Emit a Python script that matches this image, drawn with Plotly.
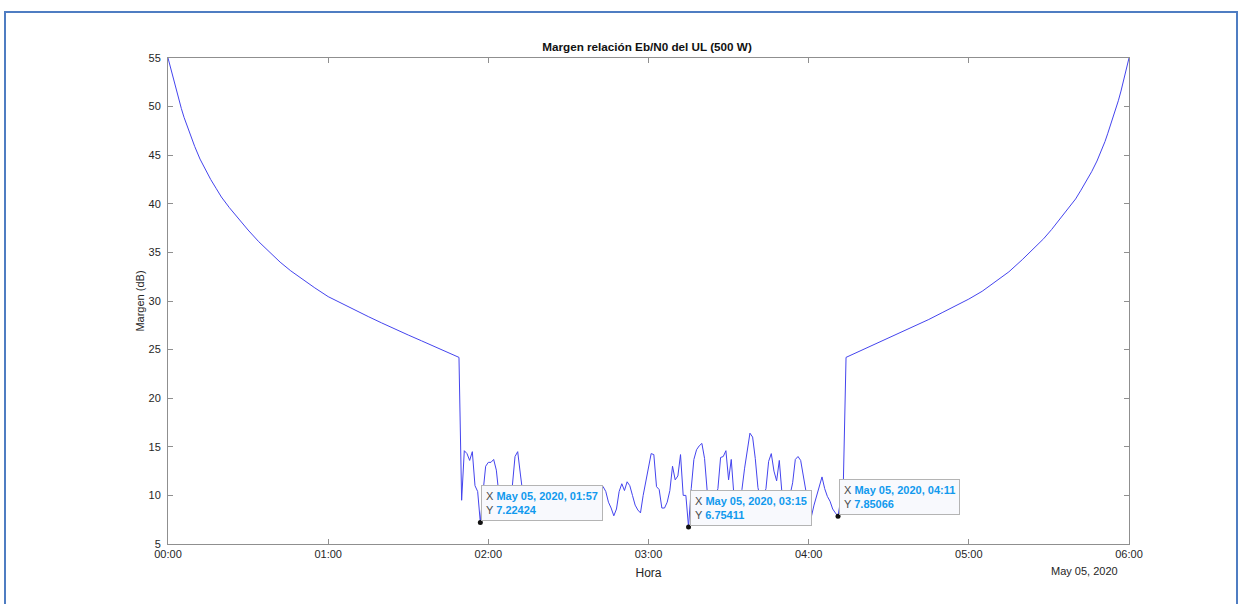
import pandas as pd
import plotly.graph_objects as go

# --- data -----------------------------------------------------------------
DAY = "2020-05-05"

# pass entry: margin (dB) vs minutes after 00:00
entry_min = [0, 1, 2, 3, 4, 5, 6, 7, 8, 9, 10, 12, 14, 16, 18, 20, 23, 26,
             30, 34, 38, 42, 46, 50, 55, 60, 65, 70, 75, 80, 85, 90, 95, 100,
             105, 109]
entry_db = [55.0, 53.9, 52.8, 51.7, 50.7, 49.8, 48.9, 48.1, 47.3, 46.6, 45.9,
            44.6, 43.5, 42.5, 41.6, 40.7, 39.6, 38.6, 37.3, 36.1, 35.0, 34.0,
            33.1, 32.3, 31.35, 30.45, 29.75, 29.05, 28.4, 27.75, 27.1, 26.5,
            25.9, 25.3, 24.7, 24.2]

# faded segment, one sample per minute from 01:50 to 04:13
fade_start_min = 110
fade_db = [
    9.5, 14.6, 14.3, 13.6, 14.5, 11.0, 10.4, 7.22424, 10.3, 13.0,
    13.4, 13.4, 13.7, 12.6, 10.0, 8.9, 8.4, 8.8, 9.6, 11.0,
    14.0, 14.5, 12.2, 10.0, 9.2, 8.6, 8.9, 9.4, 9.0, 8.5,
    9.2, 9.9, 10.3, 10.2, 10.3, 10.1, 10.3, 10.2, 9.6, 8.8,
    8.3, 8.7, 9.4, 9.0, 8.4, 8.0, 8.5, 9.2, 9.7, 9.3,
    9.0, 9.6, 10.3, 10.9, 10.4, 9.3, 8.7, 7.9, 8.6, 10.4,
    11.2, 10.5, 11.4, 11.0, 10.0, 9.0, 8.5, 8.2, 10.0, 11.5,
    12.6, 14.3, 14.2, 10.9, 10.6, 8.7, 8.7, 9.3, 10.5, 13.0,
    11.6, 12.0, 14.2, 10.0, 10.0, 6.75411, 10.7, 13.7, 14.7, 15.1,
    15.35, 13.8, 10.4, 9.5, 9.2, 9.8, 10.7, 13.9, 14.0, 14.6,
    11.6, 13.7, 10.0, 9.3, 9.8, 10.6, 12.8, 14.8, 16.4, 16.0,
    13.8, 10.8, 9.6, 9.9, 10.7, 13.5, 14.3, 12.5, 11.5, 13.6,
    10.2, 9.2, 9.0, 10.0, 11.3, 13.7, 14.0, 13.6, 12.2, 10.4,
    8.8, 7.8, 9.0, 10.0, 10.9, 11.9, 10.7, 9.9, 9.4, 8.6,
    8.2, 7.85066, 9.6, 11.4,
]

# pass exit
exit_min = [254, 258, 262, 266, 270, 275, 280, 285, 290, 295, 300, 305, 310,
            315, 320, 324, 328, 331, 334, 337, 340, 342, 344, 346, 348, 350,
            351, 352, 353, 354, 355, 356, 357, 358, 359, 360]
exit_db = [24.2, 24.7, 25.2, 25.7, 26.2, 26.8, 27.45, 28.1, 28.8, 29.5, 30.2,
           31.0, 32.0, 33.0, 34.25, 35.3, 36.4, 37.35, 38.4, 39.4, 40.5, 41.4,
           42.3, 43.3, 44.4, 45.7, 46.4, 47.2, 48.0, 48.8, 49.7, 50.6, 51.6,
           52.7, 53.9, 55.0]

# data tips (minute of the day)
tip_min = [117, 195, 251]

y_ticks = [5, 10, 15, 20, 25, 30, 35, 40, 45, 50, 55]
x_tick_hours = [0, 1, 2, 3, 4, 5, 6]

# --- assemble series ------------------------------------------------------
fade_min = list(range(fade_start_min, fade_start_min + len(fade_db)))
all_min = entry_min + fade_min + exit_min
all_db = entry_db + fade_db + exit_db

t0 = pd.Timestamp(DAY)
times = [t0 + pd.Timedelta(minutes=m) for m in all_min]
lookup = dict(zip(all_min, all_db))
tip_t = [t0 + pd.Timedelta(minutes=m) for m in tip_min]
tip_v = [lookup[m] for m in tip_min]

FONT = "Liberation Sans, Arial, Helvetica, sans-serif"
TXT = "#262626"
AX = "#8f8f8f"

fig = go.Figure()
fig.add_trace(go.Scatter(x=times, y=all_db, mode="lines",
                         line=dict(color="#4444ee", width=1),
                         hoverinfo="skip", showlegend=False))
fig.add_trace(go.Scatter(x=tip_t, y=tip_v, mode="markers",
                         marker=dict(color="#111111", size=5),
                         hoverinfo="skip", showlegend=False))

for t, v in zip(tip_t, tip_v):
    label = (f"<span style='color:#4a4a4a'>X</span> "
             f"<b><span style='color:#1199ee'>{t.strftime('%b %d, %Y, %H:%M')}</span></b><br>"
             f"<span style='color:#4a4a4a'>Y</span> "
             f"<b><span style='color:#1199ee'>{v:g}</span></b>")
    fig.add_annotation(x=t, y=v, xref="x", yref="y", text=label,
                       showarrow=False, xanchor="left", yanchor="bottom",
                       align="left", xshift=1, yshift=1,
                       font=dict(family=FONT, size=11),
                       bgcolor="#f8f9fd", bordercolor="#b4b4b4",
                       borderwidth=1, borderpad=4)

# date label under last tick
fig.add_annotation(text="May 05, 2020", xref="paper", yref="paper",
                   x=(1120 - 168) / 961, y=(544 - 571) / 486,
                   xanchor="right", yanchor="middle", showarrow=False,
                   font=dict(family=FONT, size=11, color=TXT))

# outer frame
fig.add_shape(type="rect", xref="paper", yref="paper",
              x0=(5 - 168) / 961, x1=(1237 - 168) / 961,
              y0=(544 - 612) / 486, y1=(544 - 12) / 486,
              line=dict(color="#4f7dc2", width=2), fillcolor="rgba(0,0,0,0)",
              layer="above")

fig.update_layout(
    width=1242, height=604,
    margin=dict(l=168, r=113, t=58, b=60),
    paper_bgcolor="white", plot_bgcolor="white",
    font=dict(family=FONT, size=11, color=TXT),
    title=dict(text="<b>Margen relación Eb/N0 del UL (500 W)</b>",
               x=647 / 1242, xanchor="center",
               y=1 - 47 / 604, yanchor="middle", yref="container",
               font=dict(family=FONT, size=11.7, color="#111111")),
    xaxis=dict(
        type="date",
        range=[t0, t0 + pd.Timedelta(hours=6)],
        tickvals=[t0 + pd.Timedelta(hours=h) for h in x_tick_hours],
        ticktext=[f"{h:02d}:00" for h in x_tick_hours],
        ticks="inside", ticklen=5, tickcolor=AX, tickwidth=1,
        showline=True, linecolor=AX, linewidth=1, mirror="ticks",
        showgrid=False, zeroline=False,
        tickfont=dict(family=FONT, size=11, color=TXT),
        title=dict(text="Hora", standoff=9,
                   font=dict(family=FONT, size=12, color=TXT)),
    ),
    yaxis=dict(
        range=[5, 55],
        tickvals=y_ticks,
        ticks="inside", ticklen=5, tickcolor=AX, tickwidth=1,
        showline=True, linecolor=AX, linewidth=1, mirror="ticks",
        showgrid=False, zeroline=False,
        tickfont=dict(family=FONT, size=11, color=TXT),
        ticklabelstandoff=4,
        title=dict(text="Margen (dB)", standoff=1,
                   font=dict(family=FONT, size=11, color=TXT)),
    ),
)

fig.write_html("out.html")
